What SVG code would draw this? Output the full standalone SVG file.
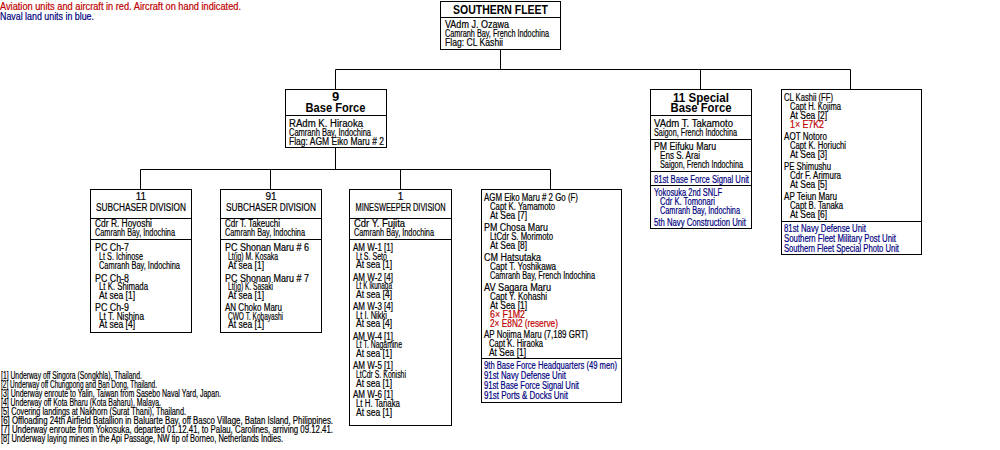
<svg xmlns="http://www.w3.org/2000/svg" width="1000" height="450" viewBox="0 0 1000 450">
<style>
text{font-family:"Liberation Sans",Arial,sans-serif;font-size:10px;fill:#000;stroke:#000;stroke-width:.2px}
.b{font-weight:bold;font-size:12px;stroke-width:0}
.bb{font-size:13px}
.m{text-anchor:middle}
.r{fill:#c00000;stroke:#c00000}
.n{fill:#000080;stroke:#000080}
rect{fill:#fff;stroke:#000;stroke-width:1}
line,path{stroke:#000;stroke-width:1;fill:none}
</style>
<rect x="0" y="0" width="1000" height="450" style="stroke:none"/>
<g id="legend">
<text class="r" x="0" y="10" textLength="241" lengthAdjust="spacingAndGlyphs">Aviation units and aircraft in red. Aircraft on hand indicated.</text>
<text class="n" x="0" y="20" textLength="94" lengthAdjust="spacingAndGlyphs">Naval land units in blue.</text>
</g>
<g id="connectors">
<path d="M500.5,49.5V69.5M335.5,69.5H850.5M335.5,69.5V89.5M700.5,69.5V89.5M850.5,69.5V89.5M335.5,147.5V169.5M140.5,169.5H550.5M140.5,169.5V189.5M270.5,169.5V189.5M400.5,169.5V189.5M550.5,169.5V189.5"/>
</g>
<g id="southern-fleet">
<rect x="440.5" y="1.5" width="120" height="48"/>
<line x1="440.5" y1="17.5" x2="560.5" y2="17.5"/>
<text class="b m" x="500.5" y="13.5" textLength="95" lengthAdjust="spacingAndGlyphs">SOUTHERN FLEET</text>
<text x="445" y="28" textLength="64" lengthAdjust="spacingAndGlyphs">VAdm  J. Ozawa</text>
<text x="445" y="37" textLength="104" lengthAdjust="spacingAndGlyphs">Camranh Bay, French Indochina</text>
<text x="445" y="46" textLength="58" lengthAdjust="spacingAndGlyphs">Flag:  CL  Kashii</text>
</g>
<g id="base-force-9">
<rect x="285.5" y="89.5" width="101" height="58"/>
<line x1="285.5" y1="115.5" x2="386.5" y2="115.5"/>
<text class="b bb m" x="335.5" y="101">9</text>
<text class="b bb m" x="335.5" y="112" textLength="60" lengthAdjust="spacingAndGlyphs">Base Force</text>
<text x="289" y="126.5" textLength="74" lengthAdjust="spacingAndGlyphs">RAdm  K. Hiraoka</text>
<text x="289" y="135.5" textLength="82" lengthAdjust="spacingAndGlyphs">Camranh Bay, Indochina</text>
<text x="289" y="144.5" textLength="95" lengthAdjust="spacingAndGlyphs">Flag:  AGM  Eiko Maru # 2</text>
</g>
<g id="special-base-force-11">
<rect x="650.5" y="89.5" width="101" height="139"/>
<line x1="650.5" y1="115.5" x2="751.5" y2="115.5"/>
<line x1="650.5" y1="139.5" x2="751.5" y2="139.5"/>
<line x1="650.5" y1="171.5" x2="751.5" y2="171.5"/>
<line x1="650.5" y1="185.5" x2="751.5" y2="185.5"/>
<text class="b bb m" x="701" y="101.5" textLength="56" lengthAdjust="spacingAndGlyphs">11 Special</text>
<text class="b bb m" x="701" y="112" textLength="61" lengthAdjust="spacingAndGlyphs">Base Force</text>
<text x="654" y="126.5" textLength="79" lengthAdjust="spacingAndGlyphs">VAdm  T. Takamoto</text>
<text x="654" y="135.5" textLength="83" lengthAdjust="spacingAndGlyphs">Saigon, French Indochina</text>
<text x="654" y="150" textLength="62" lengthAdjust="spacingAndGlyphs">PM  Eifuku Maru</text>
<text x="660" y="158.5" textLength="40" lengthAdjust="spacingAndGlyphs">Ens  S. Arai</text>
<text x="660" y="167.5" textLength="83" lengthAdjust="spacingAndGlyphs">Saigon, French Indochina</text>
<text class="n" x="654" y="182.5" textLength="95" lengthAdjust="spacingAndGlyphs">81st Base Force Signal Unit</text>
<text class="n" x="654" y="195.5" textLength="68" lengthAdjust="spacingAndGlyphs">Yokosuka 2nd SNLF</text>
<text class="n" x="660" y="205" textLength="55" lengthAdjust="spacingAndGlyphs">Cdr  K. Tomonari</text>
<text class="n" x="660" y="214" textLength="80" lengthAdjust="spacingAndGlyphs">Camranh Bay, Indochina</text>
<text class="n" x="654" y="225.5" textLength="92" lengthAdjust="spacingAndGlyphs">5th Navy Construction Unit</text>
</g>
<g id="cl-kashii">
<rect x="781.5" y="89.5" width="140" height="165"/>
<line x1="781.5" y1="221.5" x2="921.5" y2="221.5"/>
<text x="784" y="101" textLength="49" lengthAdjust="spacingAndGlyphs">CL Kashii (FF)</text>
<text x="790" y="109.5" textLength="51" lengthAdjust="spacingAndGlyphs">Capt  H. Kojima</text>
<text x="790" y="118.5" textLength="37" lengthAdjust="spacingAndGlyphs">At Sea [2]</text>
<text class="r" x="790" y="127.5" textLength="34" lengthAdjust="spacingAndGlyphs">1× E7K2</text>
<text x="784" y="140" textLength="43" lengthAdjust="spacingAndGlyphs">AOT  Notoro</text>
<text x="790" y="148.5" textLength="56" lengthAdjust="spacingAndGlyphs">Capt  K. Horiuchi</text>
<text x="790" y="157.5" textLength="37" lengthAdjust="spacingAndGlyphs">At Sea [3]</text>
<text x="784" y="170" textLength="47" lengthAdjust="spacingAndGlyphs">PE  Shimushu</text>
<text x="790" y="178.5" textLength="51" lengthAdjust="spacingAndGlyphs">Cdr  F. Arimura</text>
<text x="790" y="187.5" textLength="37" lengthAdjust="spacingAndGlyphs">At Sea [5]</text>
<text x="784" y="200" textLength="53" lengthAdjust="spacingAndGlyphs">AP  Teiun Maru</text>
<text x="790" y="208.5" textLength="53" lengthAdjust="spacingAndGlyphs">Capt  B. Tanaka</text>
<text x="790" y="217.5" textLength="37" lengthAdjust="spacingAndGlyphs">At Sea [6]</text>
<text class="n" x="784" y="231.5" textLength="82" lengthAdjust="spacingAndGlyphs">81st Navy Defense Unit</text>
<text class="n" x="784" y="241.5" textLength="112" lengthAdjust="spacingAndGlyphs">Southern Fleet Military Post Unit</text>
<text class="n" x="784" y="251.5" textLength="115" lengthAdjust="spacingAndGlyphs">Southern Fleet Special Photo Unit</text>
</g>
<g id="subchaser-11">
<rect x="90.5" y="189.5" width="101" height="143"/>
<line x1="90.5" y1="218.5" x2="191.5" y2="218.5"/>
<line x1="90.5" y1="239.5" x2="191.5" y2="239.5"/>
<text class="m" x="141" y="200">11</text>
<text class="m" x="141" y="211" textLength="90" lengthAdjust="spacingAndGlyphs">SUBCHASER  DIVISION</text>
<text x="95" y="227" textLength="57" lengthAdjust="spacingAndGlyphs">Cdr  R. Hoyoshi</text>
<text x="95" y="235.5" textLength="80" lengthAdjust="spacingAndGlyphs">Camranh Bay, Indochina</text>
<text x="95" y="251" textLength="34" lengthAdjust="spacingAndGlyphs">PC  Ch-7</text>
<text x="99" y="259.5" textLength="44" lengthAdjust="spacingAndGlyphs">Lt  S. Ichinose</text>
<text x="99" y="268.5" textLength="81" lengthAdjust="spacingAndGlyphs">Camranh Bay, Indochina</text>
<text x="95" y="281.5" textLength="34" lengthAdjust="spacingAndGlyphs">PC  Ch-8</text>
<text x="99" y="290" textLength="49" lengthAdjust="spacingAndGlyphs">Lt  K. Shimada</text>
<text x="99" y="299" textLength="36" lengthAdjust="spacingAndGlyphs">At sea [1]</text>
<text x="95" y="311" textLength="34" lengthAdjust="spacingAndGlyphs">PC  Ch-9</text>
<text x="99" y="319.5" textLength="45" lengthAdjust="spacingAndGlyphs">Lt  T. Nishina</text>
<text x="99" y="328" textLength="36" lengthAdjust="spacingAndGlyphs">At sea [4]</text>
</g>
<g id="subchaser-91">
<rect x="220.5" y="189.5" width="101" height="143"/>
<line x1="220.5" y1="218.5" x2="321.5" y2="218.5"/>
<line x1="220.5" y1="239.5" x2="321.5" y2="239.5"/>
<text class="m" x="271" y="200">91</text>
<text class="m" x="271" y="211" textLength="90" lengthAdjust="spacingAndGlyphs">SUBCHASER  DIVISION</text>
<text x="225" y="227" textLength="55" lengthAdjust="spacingAndGlyphs">Cdr  T. Takeuchi</text>
<text x="225" y="235.5" textLength="80" lengthAdjust="spacingAndGlyphs">Camranh Bay, Indochina</text>
<text x="225" y="251" textLength="84" lengthAdjust="spacingAndGlyphs">PC  Shonan Maru # 6</text>
<text x="228" y="259.5" textLength="50" lengthAdjust="spacingAndGlyphs">Lt(jg)  M. Kosaka</text>
<text x="228" y="268.5" textLength="36" lengthAdjust="spacingAndGlyphs">At sea [1]</text>
<text x="225" y="281.5" textLength="84" lengthAdjust="spacingAndGlyphs">PC  Shonan Maru # 7</text>
<text x="228" y="290" textLength="45" lengthAdjust="spacingAndGlyphs">Lt(jg)  K. Sasaki</text>
<text x="228" y="299" textLength="36" lengthAdjust="spacingAndGlyphs">At sea [1]</text>
<text x="225" y="311" textLength="57" lengthAdjust="spacingAndGlyphs">AN  Choko Maru</text>
<text x="228" y="319.5" textLength="55" lengthAdjust="spacingAndGlyphs">CWO  T. Kobayashi</text>
<text x="228" y="328" textLength="36" lengthAdjust="spacingAndGlyphs">At sea [1]</text>
</g>
<g id="minesweeper-1">
<rect x="349.5" y="189.5" width="102" height="236"/>
<line x1="349.5" y1="218.5" x2="451.5" y2="218.5"/>
<line x1="349.5" y1="239.5" x2="451.5" y2="239.5"/>
<text class="m" x="400.5" y="200">1</text>
<text class="m" x="400.5" y="211" textLength="90" lengthAdjust="spacingAndGlyphs">MINESWEEPER DIVISION</text>
<text x="354" y="227" textLength="51" lengthAdjust="spacingAndGlyphs">Cdr  Y. Fujita</text>
<text x="354" y="235.5" textLength="80" lengthAdjust="spacingAndGlyphs">Camranh Bay, Indochina</text>
<text x="353" y="251" textLength="40" lengthAdjust="spacingAndGlyphs">AM  W-1  [1]</text>
<text x="356" y="259.5" textLength="31" lengthAdjust="spacingAndGlyphs">Lt  S. Seto</text>
<text x="356" y="268" textLength="36" lengthAdjust="spacingAndGlyphs">At sea [1]</text>
<text x="353" y="280.5" textLength="40" lengthAdjust="spacingAndGlyphs">AM  W-2  [4]</text>
<text x="356" y="289" textLength="36" lengthAdjust="spacingAndGlyphs">Lt  K Ikunaga</text>
<text x="356" y="297.5" textLength="36" lengthAdjust="spacingAndGlyphs">At sea [4]</text>
<text x="353" y="310" textLength="40" lengthAdjust="spacingAndGlyphs">AM  W-3  [4]</text>
<text x="356" y="318.5" textLength="31" lengthAdjust="spacingAndGlyphs">Lt  I. Nikki</text>
<text x="356" y="327" textLength="36" lengthAdjust="spacingAndGlyphs">At sea [4]</text>
<text x="353" y="339.5" textLength="40" lengthAdjust="spacingAndGlyphs">AM  W-4  [1]</text>
<text x="356" y="348" textLength="46" lengthAdjust="spacingAndGlyphs">Lt  T. Nagamine</text>
<text x="356" y="357" textLength="36" lengthAdjust="spacingAndGlyphs">At sea [1]</text>
<text x="353" y="369" textLength="40" lengthAdjust="spacingAndGlyphs">AM  W-5  [1]</text>
<text x="356" y="377.5" textLength="50" lengthAdjust="spacingAndGlyphs">LtCdr  S. Konishi</text>
<text x="356" y="386.5" textLength="36" lengthAdjust="spacingAndGlyphs">At sea [1]</text>
<text x="353" y="398" textLength="40" lengthAdjust="spacingAndGlyphs">AM  W-6  [1]</text>
<text x="356" y="406.5" textLength="44" lengthAdjust="spacingAndGlyphs">Lt  H. Tanaka</text>
<text x="356" y="415.5" textLength="36" lengthAdjust="spacingAndGlyphs">At sea [1]</text>
</g>
<g id="eiko-maru-group">
<rect x="481.5" y="189.5" width="140" height="213"/>
<line x1="481.5" y1="358.5" x2="621.5" y2="358.5"/>
<text x="484" y="201" textLength="94" lengthAdjust="spacingAndGlyphs">AGM  Eiko Maru # 2 Go (F)</text>
<text x="490" y="209.5" textLength="65" lengthAdjust="spacingAndGlyphs">Capt  K. Yamamoto</text>
<text x="490" y="218.5" textLength="37" lengthAdjust="spacingAndGlyphs">At Sea [7]</text>
<text x="484" y="231" textLength="64" lengthAdjust="spacingAndGlyphs">PM  Chosa Maru</text>
<text x="490" y="239.5" textLength="63" lengthAdjust="spacingAndGlyphs">LtCdr  S. Morimoto</text>
<text x="490" y="248.5" textLength="37" lengthAdjust="spacingAndGlyphs">At Sea [8]</text>
<text x="484" y="261" textLength="57" lengthAdjust="spacingAndGlyphs">CM  Hatsutaka</text>
<text x="490" y="269.5" textLength="66" lengthAdjust="spacingAndGlyphs">Capt  T. Yoshikawa</text>
<text x="490" y="278.5" textLength="105" lengthAdjust="spacingAndGlyphs">Camranh Bay, French Indochina</text>
<text x="484" y="291" textLength="67" lengthAdjust="spacingAndGlyphs">AV  Sagara  Maru</text>
<text x="490" y="299.5" textLength="57" lengthAdjust="spacingAndGlyphs">Capt  Y. Kohashi</text>
<text x="490" y="308.5" textLength="37" lengthAdjust="spacingAndGlyphs">At Sea [1]</text>
<text class="r" x="490" y="317.5" textLength="35" lengthAdjust="spacingAndGlyphs">6× F1M2</text>
<text class="r" x="490" y="326.5" textLength="68" lengthAdjust="spacingAndGlyphs">2× E8N2 (reserve)</text>
<text x="484" y="338" textLength="104" lengthAdjust="spacingAndGlyphs">AP  Nojima Maru (7,189 GRT)</text>
<text x="489" y="346.5" textLength="54" lengthAdjust="spacingAndGlyphs">Capt  K. Hiraoka</text>
<text x="489" y="355.5" textLength="37" lengthAdjust="spacingAndGlyphs">At Sea [1]</text>
<text class="n" x="484" y="368.5" textLength="133" lengthAdjust="spacingAndGlyphs">9th Base Force Headquarters (49 men)</text>
<text class="n" x="484" y="379" textLength="82" lengthAdjust="spacingAndGlyphs">91st Navy Defense Unit</text>
<text class="n" x="484" y="389" textLength="95" lengthAdjust="spacingAndGlyphs">91st Base Force Signal Unit</text>
<text class="n" x="484" y="399" textLength="84" lengthAdjust="spacingAndGlyphs">91st Ports &amp; Docks Unit</text>
</g>
<g id="footnotes">
<text x="1" y="378.5" textLength="141" lengthAdjust="spacingAndGlyphs">[1] Underway off Singora (Songkhla), Thailand.</text>
<text x="1" y="387.5" textLength="156" lengthAdjust="spacingAndGlyphs">[2] Underway off Chungpong and Ban Dong, Thailand.</text>
<text x="1" y="396.5" textLength="220" lengthAdjust="spacingAndGlyphs">[3] Underway enroute to Yalin, Taiwan from Sasebo Naval Yard, Japan.</text>
<text x="1" y="405.5" textLength="160" lengthAdjust="spacingAndGlyphs">[4] Underway off Kota Bharu (Kota Baharu), Malaya.</text>
<text x="1" y="414.5" textLength="185" lengthAdjust="spacingAndGlyphs">[5] Covering landings at Nakhorn (Surat Thani), Thailand.</text>
<text x="1" y="423.5" textLength="332" lengthAdjust="spacingAndGlyphs">[6] Offloading 24th Airfield Batallion in Baluarte Bay, off Basco Village, Batan Island, Philippines.</text>
<text x="1" y="432.5" textLength="332" lengthAdjust="spacingAndGlyphs">[7] Underway enroute from Yokosuka, departed 01.12.41, to Palau, Carolines, arriving 09.12.41.</text>
<text x="1" y="441.5" textLength="282" lengthAdjust="spacingAndGlyphs">[8] Underway laying mines in the Api Passage, NW tip of Borneo, Netherlands Indies.</text>
</g>
</svg>
